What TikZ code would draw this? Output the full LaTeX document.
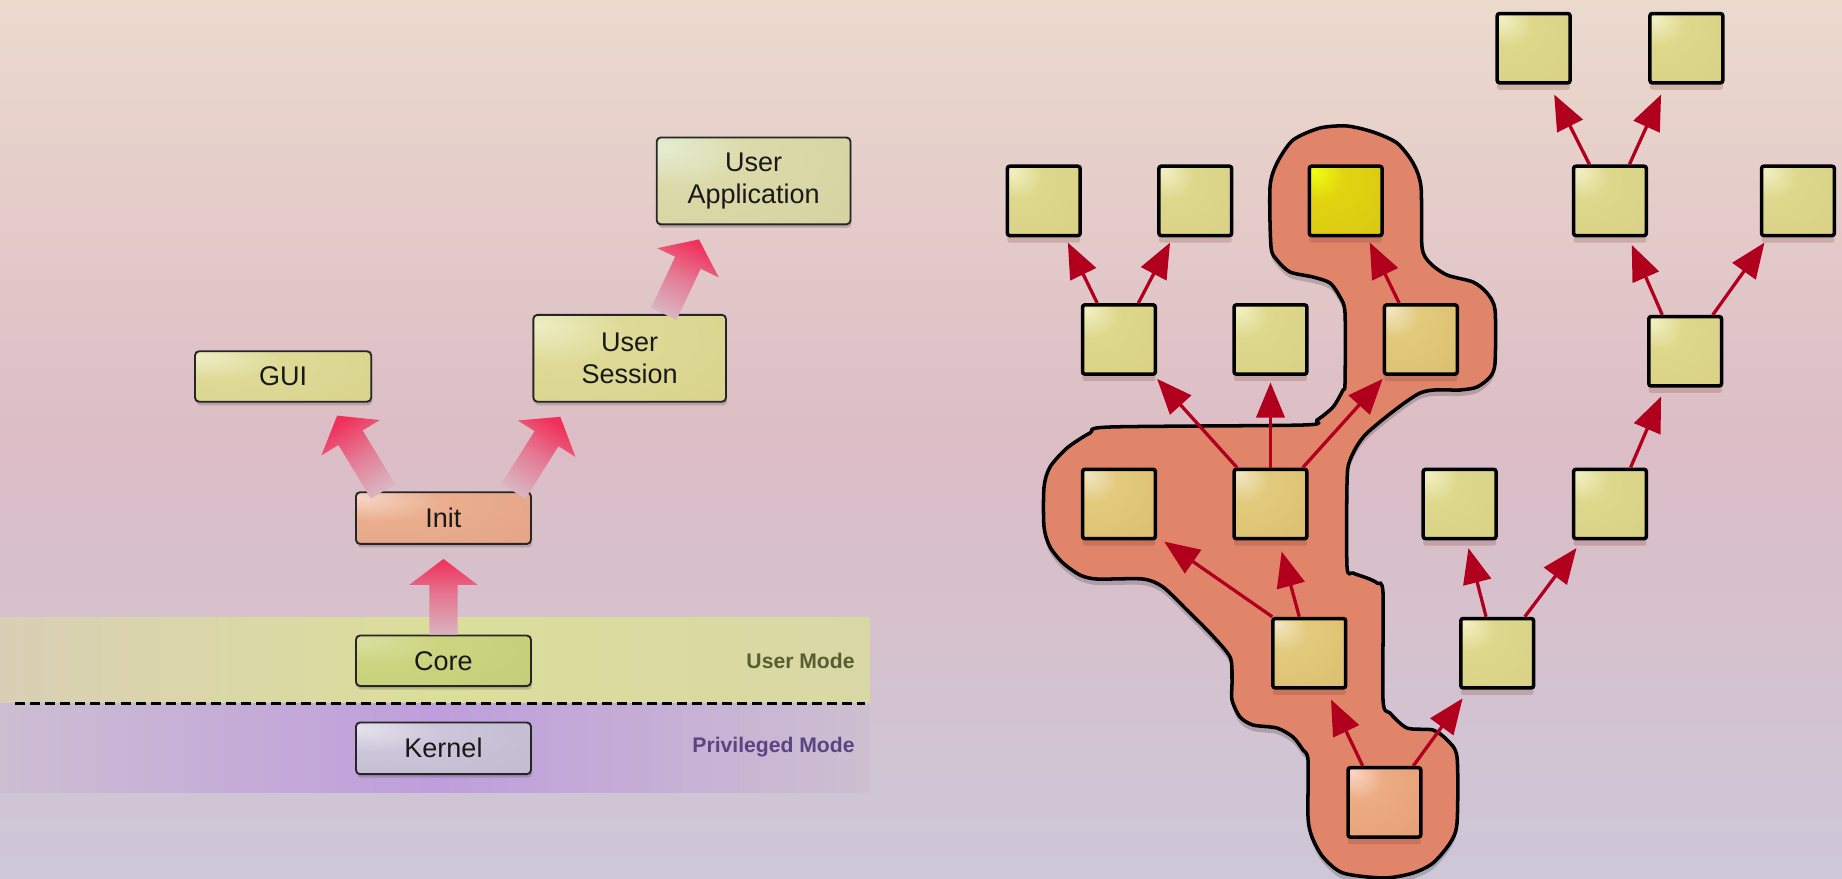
\documentclass[tikz,border=0pt]{standalone}
\usepackage{fontspec}
\setmainfont{Liberation Sans}
\usetikzlibrary{calc,arrows.meta,shadows}

\definecolor{bgtop}{HTML}{ECDACD}
\definecolor{bgmid}{HTML}{DCBDC6}
\definecolor{bgbot}{HTML}{CDC7D8}
\definecolor{ybL}{HTML}{D9CFB6}
\definecolor{ybM}{HTML}{DBDE9A}
\definecolor{ybR}{HTML}{D8D8A6}
\definecolor{pbL}{HTML}{CDBED2}
\definecolor{pbM}{HTML}{BE9EDC}
\definecolor{pbR}{HTML}{CDBFD0}
\definecolor{umode}{HTML}{585E30}
\definecolor{pmode}{HTML}{5A4482}
\definecolor{guiL}{HTML}{EEEDC6}
\definecolor{guiM}{HTML}{DEDA96}
\definecolor{guiD}{HTML}{D4CC84}
\definecolor{appL}{HTML}{E4EED4}
\definecolor{appM}{HTML}{DCDAAA}
\definecolor{appD}{HTML}{D0CC98}
\definecolor{initL}{HTML}{F6D6C6}
\definecolor{initM}{HTML}{EAAE8E}
\definecolor{initD}{HTML}{DE9C7C}
\definecolor{coreL}{HTML}{D8E0A0}
\definecolor{coreM}{HTML}{CCD480}
\definecolor{coreD}{HTML}{BCC870}
\definecolor{kernL}{HTML}{E6E2EC}
\definecolor{kernM}{HTML}{CCC6DA}
\definecolor{kernD}{HTML}{B8B0C8}
\definecolor{yL}{HTML}{F2F0C4}
\definecolor{yM}{HTML}{DED88C}
\definecolor{yD}{HTML}{D4CC80}
\definecolor{bL}{HTML}{F2E6C4}
\definecolor{bM}{HTML}{E2CA7C}
\definecolor{bD}{HTML}{D6B464}
\definecolor{brL}{HTML}{EEFF10}
\definecolor{brM}{HTML}{E2D410}
\definecolor{brD}{HTML}{D2BC18}
\definecolor{oL}{HTML}{FAD6C6}
\definecolor{oM}{HTML}{ECAC84}
\definecolor{oD}{HTML}{E09466}
\definecolor{blobc}{HTML}{E0846A}
\definecolor{arrc}{HTML}{B0001E}
\definecolor{fatTip}{HTML}{F0305A}
\definecolor{fatMid}{HTML}{E47A94}
\definecolor{fatBot}{HTML}{D9B4C0}
\definecolor{shadowc}{HTML}{6A3020}

\pgfdeclareradialshading{shGui}{\pgfpoint{-25bp}{20bp}}{color(0bp)=(guiL); color(18bp)=(guiM); color(75bp)=(guiD)}
\pgfdeclareradialshading{shApp}{\pgfpoint{-25bp}{20bp}}{color(0bp)=(appL); color(18bp)=(appM); color(75bp)=(appD)}
\pgfdeclareradialshading{shInit}{\pgfpoint{-25bp}{20bp}}{color(0bp)=(initL); color(18bp)=(initM); color(75bp)=(initD)}
\pgfdeclareradialshading{shCore}{\pgfpoint{-25bp}{20bp}}{color(0bp)=(coreL); color(18bp)=(coreM); color(75bp)=(coreD)}
\pgfdeclareradialshading{shKern}{\pgfpoint{-25bp}{20bp}}{color(0bp)=(kernL); color(18bp)=(kernM); color(75bp)=(kernD)}
\pgfdeclareradialshading{shY}{\pgfpoint{-22bp}{22bp}}{color(0bp)=(yL); color(16bp)=(yM); color(75bp)=(yD)}
\pgfdeclareradialshading{shB}{\pgfpoint{-22bp}{22bp}}{color(0bp)=(bL); color(16bp)=(bM); color(75bp)=(bD)}
\pgfdeclareradialshading{shBr}{\pgfpoint{-22bp}{22bp}}{color(0bp)=(brL); color(16bp)=(brM); color(75bp)=(brD)}
\pgfdeclareradialshading{shO}{\pgfpoint{-22bp}{22bp}}{color(0bp)=(oL); color(16bp)=(oM); color(75bp)=(oD)}

\newcommand{\fatarrow}[3]{%
  \coordinate (fa-s) at #1;
  \coordinate (fa-t) at #2;
  \coordinate (fa-h) at ($(fa-t)!22pt!(fa-s)$);
  \shade[top color=fatTip, bottom color=fatBot, middle color=fatMid, shading angle=#3]
    ($(fa-s)!12pt!90:(fa-t)$) -- ($(fa-h)!12pt!90:(fa-t)$) -- ($(fa-h)!29pt!90:(fa-t)$)
    -- (fa-t) -- ($(fa-h)!29pt!-90:(fa-t)$) -- ($(fa-h)!12pt!-90:(fa-t)$)
    -- ($(fa-s)!12pt!-90:(fa-t)$) -- cycle;
}

\newcommand{\blobpath}{plot[smooth cycle, tension=0.45] coordinates {
(1270,187) (1277,163) (1293,140) (1320,128) (1347,126) (1373,132) (1397,143) (1413,163) (1421,187)
(1422,247) (1430,263) (1447,275) (1473,282) (1487,293) (1495,310) (1495,363) (1490,377) (1477,387)
(1460,390) (1420,393) (1367,433) (1350,460) (1347,483) (1347,567) (1353,573) (1367,578) (1377,583)
(1383,593) (1383,700) (1390,713) (1407,728) (1433,730) (1447,740) (1457,757) (1457,823) (1450,843)
(1433,863) (1413,873) (1384,878) (1343,873) (1323,857) (1312,837) (1308,817) (1308,760) (1303,750)
(1293,737) (1277,728) (1253,725) (1240,717) (1232,700) (1232,680) (1230,657) (1210,633) (1187,610)
(1163,587) (1143,579) (1097,579) (1080,575) (1063,563) (1050,547) (1044,527) (1044,487) (1050,467)
(1067,448) (1090,433) (1110,427) (1303,425) (1317,420) (1333,407) (1343,390) (1345,383) (1345,313)
(1340,297) (1330,283) (1313,277) (1290,272) (1277,260) (1271,247)}}

\begin{document}
\begin{tikzpicture}[x=1pt,y=-1pt,
  lb/.style={draw=black!85, line width=1.6pt, rounded corners=3.5pt, inner sep=0pt, align=center,
    font=\fontsize{23}{27}\selectfont, text=black!90, shade, shading=#1,
    drop shadow={shadow xshift=1pt, shadow yshift=-3pt, opacity=0.25, fill=black!70}},
  tb/.style={draw=black, line width=3pt, rounded corners=2pt, minimum width=62pt, minimum height=59pt,
    inner sep=0pt, shade, shading=#1,
    drop shadow={shadow xshift=0pt, shadow yshift=-6pt, opacity=0.2, fill=shadowc}},
  tarr/.style={draw=arrc, line width=2.8pt, -{Triangle[length=30pt,width=24pt]}},
  modelabel/.style={font=\bfseries\fontsize{18}{20}\selectfont, anchor=east}
]
\useasboundingbox (0,0) rectangle (1568,748);
\shade[top color=bgtop, bottom color=bgbot, middle color=bgmid] (0,0) rectangle (1568,748);

% mode bands
\shade[left color=ybL, right color=ybR, middle color=ybM] (0,526) rectangle (740,599);
\shade[left color=pbL, right color=pbR, middle color=pbM] (0,599) rectangle (740,675);
\draw[line width=2.8pt, dash pattern=on 8.5pt off 4.3pt] (13,599) -- (736,599);
\node[modelabel, text=umode] (um) at (731,563) {User Mode};
\node[modelabel, text=pmode] (pm) at (731,636) {Privileged Mode};

% left boxes
\node[lb=shGui, minimum width=150pt, minimum height=43pt] (gui) at (241,320.5) {GUI};
\node[lb=shGui, minimum width=164pt, minimum height=74pt] (ses) at (536,305) {User\\Session};
\node[lb=shApp, minimum width=165pt, minimum height=74pt] (app) at (641.5,154) {User\\Application};
\node[lb=shInit, minimum width=149pt, minimum height=44pt] (init) at (377.5,441) {Init};
\node[lb=shCore, minimum width=149pt, minimum height=43pt] (core) at (377.5,562.5) {Core};
\node[lb=shKern, minimum width=149pt, minimum height=44pt] (kern) at (377.5,637) {Kernel};

% fat arrows
\fatarrow{(core.north)}{([yshift=-12pt]init.south)}{0}
\fatarrow{([xshift=-51.5pt]init.north)}{([xshift=46pt,yshift=-11pt]gui.south)}{32}
\fatarrow{([xshift=59.5pt]init.north)}{([xshift=-59pt,yshift=-12pt]ses.south)}{-32}
\fatarrow{([xshift=29pt]ses.north)}{([xshift=-46.5pt,yshift=-12pt]app.south)}{-25}

% blob
\begin{scope}[scale=0.85125]
  \fill[black, opacity=0.18, yshift=-6pt] \blobpath;
  \filldraw[fill=blobc, draw=black, line width=3pt] \blobpath;
\end{scope}

% tree boxes
\node[tb=shY] (r1l) at (1305.5,41) {};
\node[tb=shY] (r1r) at (1435.5,41) {};
\node[tb=shY] (r2a) at (888.5,171) {};
\node[tb=shY] (r2b) at (1017.5,171) {};
\node[tb=shBr] (br) at (1145.5,171) {};
\node[tb=shY] (r2c) at (1370.5,171) {};
\node[tb=shY] (r2d) at (1530.5,171) {};
\node[tb=shY] (r3l) at (952.5,289) {};
\node[tb=shY] (r3m) at (1081.5,289) {};
\node[tb=shB] (r3r) at (1209.5,289) {};
\node[tb=shY] (r3rr) at (1434.5,299) {};
\node[tb=shB] (r4l) at (952.5,429) {};
\node[tb=shB] (r4m) at (1081.5,429) {};
\node[tb=shY] (r4c) at (1242.5,429) {};
\node[tb=shY] (r4r) at (1370.5,429) {};
\node[tb=shB] (r5l) at (1114.5,556) {};
\node[tb=shY] (r5r) at (1274.5,556) {};
\node[tb=shO] (o) at (1178.5,683) {};

% tree arrows
\draw[tarr] ([xshift=-18.5pt]o.north) -- ([xshift=18.5pt,yshift=-8.5pt]r5l.south);
\draw[tarr] ([xshift=24.5pt]o.north) -- ([xshift=-29.5pt,yshift=-7.5pt]r5r.south);
\draw[tarr] ([xshift=-8.5pt]r5l.north) -- ([xshift=9.5pt,yshift=-9.5pt]r4m.south);
\draw[tarr] ([xshift=-31.5pt]r5l.north) -- ([xshift=38.5pt,yshift=-1pt]r4l.south);
\draw[tarr] ([xshift=-9.5pt]r5r.north) -- ([xshift=7.5pt,yshift=-6.5pt]r4c.south);
\draw[tarr] ([xshift=23.5pt]r5r.north) -- ([xshift=-28.5pt,yshift=-6.5pt]r4r.south);
\draw[tarr] ([xshift=-28.5pt]r4m.north) -- ([xshift=32.5pt,yshift=-2.5pt]r3l.south);
\draw[tarr] (r4m.north) -- ([yshift=-5.5pt]r3m.south);
\draw[tarr] ([xshift=27.5pt]r4m.north) -- ([xshift=-32.5pt,yshift=-2.5pt]r3r.south);
\draw[tarr] ([xshift=-18.5pt]r3l.north) -- ([xshift=20.5pt,yshift=-4.5pt]r2a.south);
\draw[tarr] ([xshift=16.5pt]r3l.north) -- ([xshift=-21.5pt,yshift=-4.5pt]r2b.south);
\draw[tarr] ([xshift=-18.5pt]r3r.north) -- ([xshift=20.5pt,yshift=-4.5pt]br.south);
\draw[tarr] ([xshift=17.5pt]r4r.north) -- ([xshift=-20.5pt,yshift=-7.5pt]r3rr.south);
\draw[tarr] ([xshift=-19.5pt]r3rr.north) -- ([xshift=18.5pt,yshift=-6.5pt]r2c.south);
\draw[tarr] ([xshift=23.5pt]r3rr.north) -- ([xshift=-28.5pt,yshift=-4.5pt]r2d.south);
\draw[tarr] ([xshift=-17.5pt]r2c.north) -- ([xshift=17.5pt,yshift=-8.5pt]r1l.south);
\draw[tarr] ([xshift=16.5pt]r2c.north) -- ([xshift=-21.5pt,yshift=-8.5pt]r1r.south);
\end{tikzpicture}
\end{document}
